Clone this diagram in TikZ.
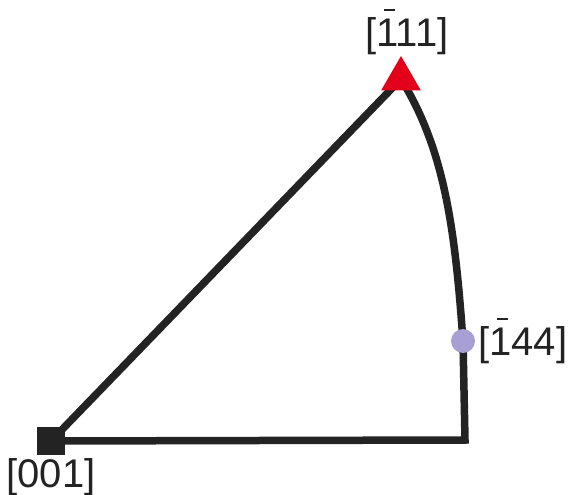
\documentclass[tikz,border=0pt]{standalone}
\usepackage{fontspec}
\setmainfont{Liberation Sans}
\usetikzlibrary{positioning,shapes.geometric,backgrounds}
\definecolor{lineInk}{RGB}{35,35,35}
\definecolor{poleRed}{RGB}{226,0,26}
\definecolor{poleLilac}{RGB}{168,160,212}
\newcommand{\barone}{\makebox[0pt][l]{\hspace{0.19em}\rule[0.88em]{0.27em}{0.06em}}1}
\tikzset{
  pole/.style={inner sep=0pt, outer sep=0pt},
  sqpole/.style={pole, rectangle, fill=lineInk, minimum size=28pt},
  tripole/.style={pole, regular polygon, regular polygon sides=3, fill=poleRed, minimum size=46pt},
  dotpole/.style={pole, circle, fill=poleLilac, minimum size=24pt},
  dirlabel/.style={inner sep=0pt, font=\fontsize{40}{40}\selectfont, text=lineInk},
  edge/.style={line width=7.5pt, draw=lineInk}
}

\begin{document}
\begin{tikzpicture}[x=1pt, y=-1pt]
        \useasboundingbox (0,0) rectangle (576,495);
        % poles
        \node[sqpole] (sq) at (51,441) {};
        \node[dotpole] (pt) at (463,341) {};
        \node[tripole] (tri) at (401,79) {};
        \coordinate (cr) at (465,440);
        \node[dirlabel, above=1pt of tri, xshift=6pt] (l111) {[\barone11]};
        \node[dirlabel, right=3pt of pt] (l144) {[\barone44]};
        \node[dirlabel, below=3pt of sq] (l001) {[001]};
        % triangle edges
        \begin{pgfonlayer}{background}
          \draw[edge, line join=miter] (sq.center) -- (cr) -- (pt.center);
          \draw[edge] (sq.center) -- (tri.center);
          \draw[edge] (pt.center) .. controls (455,230) and (445,150) .. (tri.center);
        \end{pgfonlayer}
      \end{tikzpicture}
\end{document}
